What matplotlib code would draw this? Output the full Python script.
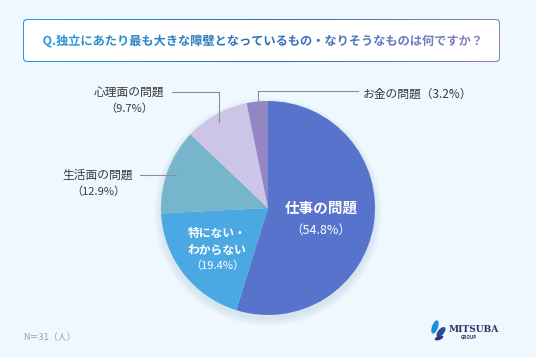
import numpy as np
import matplotlib.pyplot as plt
from matplotlib.patches import FancyBboxPatch, PathPatch, Ellipse
from matplotlib.textpath import TextPath
from matplotlib.font_manager import FontProperties
from matplotlib.transforms import Affine2D

plt.rcParams['font.family'] = ['Noto Sans CJK JP', 'DejaVu Sans']

# data
categories = ['仕事の問題', '特にない・わからない', '生活面の問題', '心理面の問題', 'お金の問題']
shares = [54.8, 19.4, 12.9, 9.7, 3.2]
colors = ['#5873cc', '#4aa9e2', '#76b5cc', '#cdc5e7', '#9486c4']
title = 'Q.独立にあたり最も大きな障壁となっているもの・なりそうなものは何ですか？'
note = 'N＝31（人）'

W, H = 536, 357
fig = plt.figure(figsize=(W / 100, H / 100), dpi=100)
fig.patch.set_facecolor('#eef8fe')
ax = fig.add_axes([0, 0, 1, 1])
ax.set_xlim(0, W)
ax.set_ylim(0, H)
ax.set_aspect('equal')
ax.axis('off')


def Y(y):
    # image row -> data y
    return H - y


# title box with gradient border
grad = np.linspace(0, 1, 256).reshape(1, -1)
cmap = plt.matplotlib.colors.LinearSegmentedColormap.from_list('tb', ['#2b9ad8', '#2a6db5', '#8a82c2'])
outer = FancyBboxPatch((23, Y(62)), 477, 43, boxstyle='round,pad=0,rounding_size=4',
                       facecolor='none', edgecolor='none')
ax.add_patch(outer)
im = ax.imshow(grad, cmap=cmap, extent=(23, 500, Y(62), Y(19)), aspect='auto', zorder=1)
im.set_clip_path(outer)
ax.add_patch(FancyBboxPatch((24, Y(61)), 475, 41, boxstyle='round,pad=0,rounding_size=3.5',
                            facecolor='white', edgecolor='none', zorder=2))

fp = FontProperties(family='Noto Sans CJK JP', weight='bold')
tp = TextPath((0, 0), title, size=12.2, prop=fp)
bb = tp.get_extents()
tx = 261 - bb.width / 2
tpath = tp.transformed(Affine2D().translate(tx, Y(45)))
tpatch = PathPatch(tpath, facecolor='none', edgecolor='none')
ax.add_patch(tpatch)
tim = ax.imshow(grad, cmap=cmap, extent=(tx, tx + bb.width, Y(50), Y(30)), aspect='auto', zorder=3)
tim.set_clip_path(tpatch)

# soft shadow under the pie
for k in range(8):
    ax.add_patch(Ellipse((268, Y(212)), 214 + 2 * k, 214 + 2 * k, facecolor='#b9cde0',
                         edgecolor='none', alpha=0.06, zorder=1))
ax.pie(shares, colors=colors, startangle=90, counterclock=False,
       center=(268, Y(208)), radius=107, frame=True,
       wedgeprops=dict(linewidth=0, zorder=2))
ax.set_xlim(0, W)
ax.set_ylim(0, H)
ax.axis('off')

lc = '#8a8f96'
tc = '#3a3a3a'
# leader lines
ax.plot([172, 219, 219], [Y(92), Y(92), Y(122)], color=lc, lw=0.8, zorder=3)
ax.plot([140, 176], [Y(175), Y(175)], color=lc, lw=0.8, zorder=3)
ax.plot([258, 258, 358], [Y(123), Y(91), Y(91)], color=lc, lw=0.8, zorder=3)

# outside labels
ax.text(129, Y(92), categories[3], ha='center', va='center', fontsize=8.5, color=tc)
ax.text(129, Y(109), f'（{shares[3]}%）', ha='center', va='center', fontsize=8, color=tc)
ax.text(98, Y(175), categories[2], ha='center', va='center', fontsize=8.5, color=tc)
ax.text(98, Y(192), f'（{shares[2]}%）', ha='center', va='center', fontsize=8, color=tc)
ax.text(363, Y(94), f'{categories[4]}（{shares[4]}%）', ha='left', va='center', fontsize=8.5, color=tc)

# inside labels
ax.text(321, Y(208), categories[0], ha='center', va='center', fontsize=10.5,
        color='white', fontweight='bold')
ax.text(321, Y(230), f'（{shares[0]}%）', ha='center', va='center', fontsize=9, color='white')
ax.text(217, Y(233), '特にない・', ha='center', va='center', fontsize=8.5,
        color='white', fontweight='bold')
ax.text(217, Y(250), 'わからない', ha='center', va='center', fontsize=8.5,
        color='white', fontweight='bold')
ax.text(217, Y(266), f'（{shares[1]}%）', ha='center', va='center', fontsize=8, color='white')

# footer
ax.text(23, Y(338), note, ha='left', va='center', fontsize=6.5, color='#9aa0a6')

# logo
ax.add_patch(Ellipse((435, Y(327)), 6, 14, angle=-20, facecolor='#1d8fd6', edgecolor='none'))
ax.add_patch(Ellipse((441, Y(332)), 6, 12, angle=-40, facecolor='#2a4a9a', edgecolor='none'))
ax.add_patch(Ellipse((439, Y(338)), 4, 9, angle=-70, facecolor='#3a2f7a', edgecolor='none'))
ax.text(474, Y(329), 'MITSUBA', ha='center', va='center', fontsize=6.6,
        family='DejaVu Serif', fontweight='bold', color='#2b3566')
ax.text(469, Y(337.5), 'GROUP', ha='center', va='center', fontsize=3.3,
        fontweight='bold', color='#2b3566')

fig.savefig('out.png', dpi=100, facecolor=fig.get_facecolor())
